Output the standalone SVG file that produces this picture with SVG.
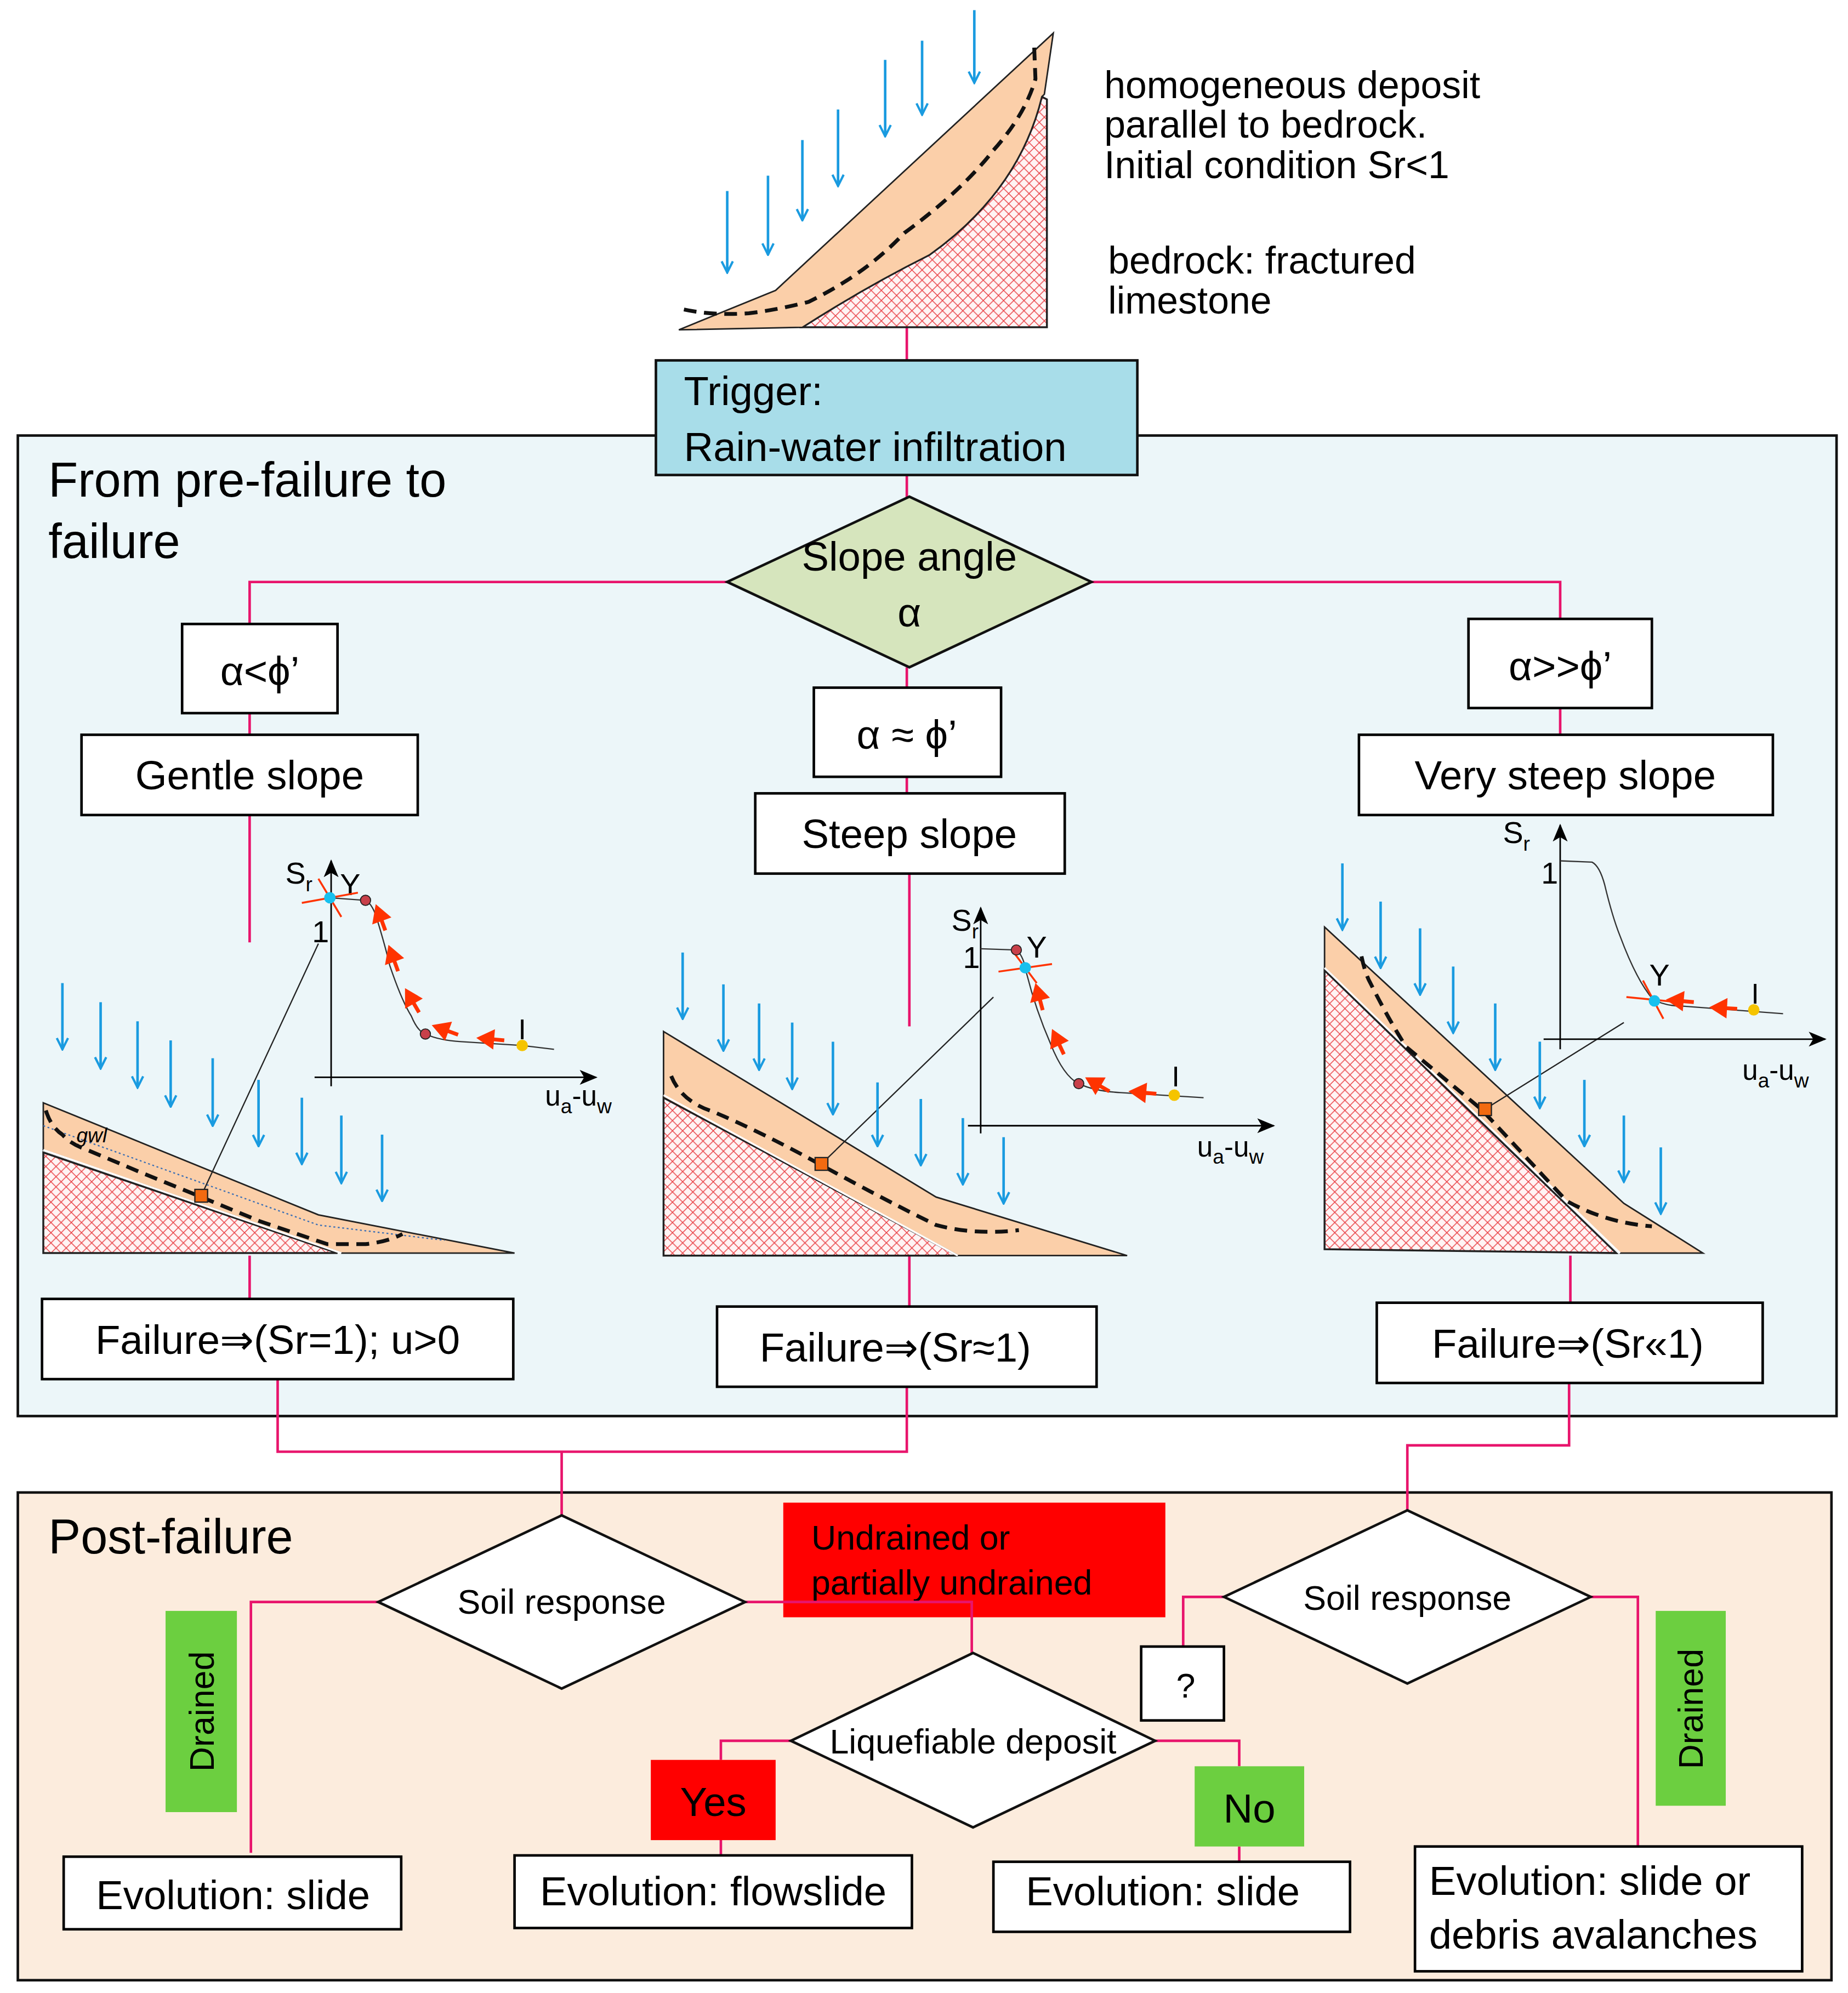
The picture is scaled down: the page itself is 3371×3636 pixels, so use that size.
<svg xmlns="http://www.w3.org/2000/svg" width="3371" height="3636" viewBox="0 0 3371 3636">
<defs>
<style>
text{font-family:"Liberation Sans",Arial,sans-serif;fill:#000}
.box{fill:#fff;stroke:#000;stroke-width:2}
.con{fill:none;stroke:#e8146c;stroke-width:2}
.rain{stroke:#1a9be0;stroke-width:2;fill:none;marker-end:url(#ra)}
.dep{fill:#fbcfa9;stroke:#222;stroke-width:1.2}
.rock{fill:url(#hatch);stroke:#222;stroke-width:1.5}
.dash{fill:none;stroke:#111;stroke-width:3;stroke-dasharray:10,6}
.ax{stroke:#000;stroke-width:1.2;fill:none;marker-end:url(#ax)}
.cur{stroke:#333;stroke-width:1;fill:none}
.lead{stroke:#222;stroke-width:1;fill:none}
.ra{fill:#ff3300}
.t32{font-size:32px}
.t30{font-size:30px}
.t27{font-size:27px}
.t38{font-size:38px}
</style>
<pattern id="hatch" width="8" height="8" patternUnits="userSpaceOnUse">
<rect width="8" height="8" fill="#fff4f4"/>
<path d="M0,8 L8,0 M0,0 L8,8" stroke="#e8383d" stroke-width="0.6"/>
</pattern>
<marker id="ra" viewBox="0 0 10 10" refX="9" refY="5" markerWidth="11" markerHeight="11" markerUnits="userSpaceOnUse" orient="auto">
<path d="M1,1 L9,5 L1,9" fill="none" stroke="#1a9be0" stroke-width="1.6"/>
</marker>
<marker id="ax" viewBox="0 0 12 10" refX="11" refY="5" markerWidth="14" markerHeight="12" markerUnits="userSpaceOnUse" orient="auto">
<path d="M0,0 L12,5 L0,10 L3,5 Z" fill="#000"/>
</marker>
<g id="rarrow"><path d="M0,0 L14,-8 L14,8 Z" class="ra"/><line x1="12" y1="0" x2="22" y2="0" stroke="#ff3300" stroke-width="3"/></g>
</defs>
<rect width="3371" height="3636" fill="#fff"/>
<g transform="scale(2.32325)">

<g id="panel1"><rect x="14" y="342" width="1428" height="770" fill="#ecf6f9" stroke="#111" stroke-width="2"/>
<text x="38" y="390" class="t38">From pre-failure to</text><text x="38" y="438" class="t38">failure</text></g>
<g id="panel2"><rect x="14" y="1172" width="1424" height="383" fill="#fcecdd" stroke="#111" stroke-width="2"/>
<text x="38" y="1220" class="t38">Post-failure</text></g>

<g id="connectors">
<path class="con" d="M712,257 V283 M712,373 V392 M571,457 H196 V490 M857,457 H1225 V486 M712,524 V540 M196,560 V577 M196,640 V740 M712,610 V623 M714,686 V806 M1225,556 V577 M196,986 V1020 M714,986 V1026 M1233,986 V1023 M218,1083 V1140 H712 V1089 M441,1140 V1190 M1232,1086 V1135 H1105 V1186 M621,1367 H566 V1382 M566,1445 V1457 M907,1367 H973 V1387 M973,1450 V1462 M297,1258 H197 V1455 M961,1254 H929 V1293 M1249,1254 H1286 V1450"/>
</g>

<g id="top-slope">
<path class="rock" d="M630,257 L822,257 L822,78 L818,76 Q800,150 730,200 Q680,225 630,257 Z"/>
<path class="dep" d="M533,259 L609,228 L827,26 L820,74 L818,76 Q800,150 730,200 Q680,225 630,257 Z"/>
<path class="dash" d="M537,243 Q560,248 588,246 Q612,243 635,237 Q680,215 710,183 Q755,150 780,118 Q805,90 813,62 L812,37"/>
<line class="rain" x1="571" y1="150" x2="571" y2="214"/>
<line class="rain" x1="603" y1="138" x2="603" y2="200"/>
<line class="rain" x1="630" y1="110" x2="630" y2="173"/>
<line class="rain" x1="658" y1="86" x2="658" y2="146"/>
<line class="rain" x1="695" y1="47" x2="695" y2="107"/>
<line class="rain" x1="724" y1="32" x2="724" y2="90"/>
<line class="rain" x1="765" y1="8" x2="765" y2="65"/>
<text x="867" y="77" class="t30">homogeneous deposit</text>
<text x="867" y="108" class="t30">parallel to bedrock.</text>
<text x="867" y="140" class="t30">Initial condition Sr&lt;1</text>
<text x="870" y="215" class="t30">bedrock: fractured</text>
<text x="870" y="246" class="t30">limestone</text>
</g>

<g id="trigger"><rect x="515" y="283" width="378" height="90" fill="#a8dde9" stroke="#111" stroke-width="2"/>
<text x="537" y="318" class="t32">Trigger:</text><text x="537" y="362" class="t32">Rain-water infiltration</text></g>

<g id="slope-angle"><polygon points="571,457 714,390 857,457 714,524" fill="#d6e5bd" stroke="#111" stroke-width="2"/>
<text x="714" y="448" class="t32" text-anchor="middle">Slope angle</text>
<text x="714" y="492" class="t32" text-anchor="middle" font-family="Liberation Serif,serif">α</text></g>

<g id="c1"><rect class="box" x="143" y="490" width="122" height="70"/><text x="204" y="538" class="t32" text-anchor="middle">α&lt;ϕ’</text></g>
<g id="gentle"><rect class="box" x="64" y="577" width="264" height="63"/><text x="196" y="620" class="t32" text-anchor="middle">Gentle slope</text></g>
<g id="c2"><rect class="box" x="639" y="540" width="147" height="70"/><text x="712" y="588" class="t32" text-anchor="middle">α ≈ ϕ’</text></g>
<g id="steep"><rect class="box" x="593" y="623" width="243" height="63"/><text x="714" y="666" class="t32" text-anchor="middle">Steep slope</text></g>
<g id="c3"><rect class="box" x="1153" y="486" width="144" height="70"/><text x="1225" y="534" class="t32" text-anchor="middle">α&gt;&gt;ϕ’</text></g>
<g id="vsteep"><rect class="box" x="1067" y="577" width="325" height="63"/><text x="1229" y="620" class="t32" text-anchor="middle">Very steep slope</text></g>

<g id="gentle-diagram">
<path class="dep" d="M34,866 L250,954 L404,984 L268,984 L34,903 Z"/>
<path class="rock" d="M34,905 L34,984 L265,984 Z"/>
<line x1="34" y1="903" x2="268" y2="984" stroke="#fff" stroke-width="1.5"/>
<path d="M34,884 L250,962 L349,974" fill="none" stroke="#3b6fb5" stroke-width="1" stroke-dasharray="1.5,2"/>
<text x="60" y="897" font-size="16" font-style="italic">gwl</text>
<path class="dash" d="M36,872 Q40,885 49,891 Q55,898 66,902 Q90,912 109,920 L158,940 L204,959 L257,977 L287,977 Q305,975 316,969"/>
<line class="lead" x1="158" y1="939" x2="250" y2="741"/>
<rect x="153" y="934" width="10" height="10" fill="#f26a10" stroke="#222" stroke-width="1"/>
<line class="ax" x1="260" y1="853" x2="260" y2="676"/>
<line class="ax" x1="247" y1="846" x2="468" y2="846"/>
<text x="224" y="694" font-size="24">S<tspan font-size="16" dy="6">r</tspan></text>
<text x="267" y="703" font-size="24">Y</text>
<text x="245" y="740" font-size="24">1</text>
<path class="cur" d="M259,705 L287,707 Q293,710 297,725 Q303,745 306,758 Q315,785 323,798 Q328,810 334,812 Q345,817 362,818 L410,821 L435,824"/>
<path d="M237,709 L281,701 M250,690 L268,720" stroke="#ff3300" stroke-width="1.5"/>
<circle cx="259" cy="705" r="4.5" fill="#18c0ee"/>
<circle cx="287" cy="707" r="4" fill="#c8404a" stroke="#222" stroke-width="0.8"/>
<circle cx="334" cy="812" r="4" fill="#c8404a" stroke="#222" stroke-width="0.8"/>
<circle cx="410" cy="821" r="4.5" fill="#f5c400"/>
<text x="407" y="816" font-size="22">I</text>
<use href="#rarrow" transform="translate(295,710) rotate(70)"/>
<use href="#rarrow" transform="translate(305,742) rotate(70)"/>
<use href="#rarrow" transform="translate(318,776) rotate(60)"/>
<use href="#rarrow" transform="translate(339,805) rotate(20)"/>
<use href="#rarrow" transform="translate(374,815) rotate(5)"/>
<text x="428" y="868" font-size="22">u<tspan font-size="16" dy="6">a</tspan><tspan dy="-6">-u</tspan><tspan font-size="16" dy="6">w</tspan></text>
<line class="rain" x1="49" y1="772" x2="49" y2="824"/>
<line class="rain" x1="79" y1="787" x2="79" y2="839"/>
<line class="rain" x1="108" y1="802" x2="108" y2="854"/>
<line class="rain" x1="134" y1="817" x2="134" y2="869"/>
<line class="rain" x1="167" y1="831" x2="167" y2="884"/>
<line class="rain" x1="203" y1="848" x2="203" y2="900"/>
<line class="rain" x1="237" y1="862" x2="237" y2="914"/>
<line class="rain" x1="268" y1="876" x2="268" y2="929"/>
<line class="rain" x1="300" y1="891" x2="300" y2="943"/>
</g>

<g id="steep-diagram">
<path class="dep" d="M521,810 L735,940 L885,986 L752,986 L521,862 Z"/>
<path class="rock" d="M521,862 L521,986 L752,986 Z"/>
<line x1="521" y1="860" x2="752" y2="986" stroke="#fff" stroke-width="1.5"/>
<path class="dash" d="M527,845 Q535,865 560,873 Q600,890 645,915 Q700,945 735,962 Q765,970 800,966"/>
<line class="lead" x1="645" y1="914" x2="780" y2="783"/>
<rect x="640" y="909" width="10" height="10" fill="#f26a10" stroke="#222" stroke-width="1"/>
<line class="ax" x1="770" y1="890" x2="770" y2="713"/>
<line class="ax" x1="760" y1="884" x2="1000" y2="884"/>
<text x="747" y="731" font-size="24">S<tspan font-size="16" dy="6">r</tspan></text>
<text x="806" y="752" font-size="24">Y</text>
<text x="756" y="760" font-size="24">1</text>
<path class="cur" d="M770,745 L798,746 Q803,750 805,760 Q812,790 825,820 Q835,845 847,851 Q860,857 880,858 L945,862"/>
<path d="M784,763 L826,757 M796,748 L814,772" stroke="#ff3300" stroke-width="1.5"/>
<circle cx="805" cy="760" r="4.5" fill="#18c0ee"/>
<circle cx="798" cy="746" r="4" fill="#c8404a" stroke="#222" stroke-width="0.8"/>
<circle cx="847" cy="851" r="4" fill="#c8404a" stroke="#222" stroke-width="0.8"/>
<circle cx="922" cy="860" r="4.5" fill="#f5c400"/>
<text x="920" y="853" font-size="22">I</text>
<use href="#rarrow" transform="translate(813,772) rotate(75)"/>
<use href="#rarrow" transform="translate(826,808) rotate(65)"/>
<use href="#rarrow" transform="translate(852,846) rotate(30)"/>
<use href="#rarrow" transform="translate(886,857) rotate(5)"/>
<text x="940" y="908" font-size="22">u<tspan font-size="16" dy="6">a</tspan><tspan dy="-6">-u</tspan><tspan font-size="16" dy="6">w</tspan></text>
<line class="rain" x1="536" y1="748" x2="536" y2="800"/>
<line class="rain" x1="568" y1="773" x2="568" y2="825"/>
<line class="rain" x1="596" y1="788" x2="596" y2="840"/>
<line class="rain" x1="622" y1="803" x2="622" y2="855"/>
<line class="rain" x1="654" y1="818" x2="654" y2="875"/>
<line class="rain" x1="689" y1="850" x2="689" y2="900"/>
<line class="rain" x1="723" y1="863" x2="723" y2="915"/>
<line class="rain" x1="756" y1="878" x2="756" y2="930"/>
<line class="rain" x1="788" y1="893" x2="788" y2="945"/>
</g>

<g id="vsteep-diagram">
<path class="dep" d="M1040,728 L1275,945 L1337,984 L1272,984 L1040,760 Z"/>
<path class="rock" d="M1040,762 L1040,981 L1269,984 Z"/>
<line x1="1040" y1="760" x2="1272" y2="984" stroke="#fff" stroke-width="1.5"/>
<path class="dash" d="M1069,751 Q1072,765 1076,772 Q1090,800 1104,822 L1163,871 L1230,943 Q1260,960 1297,963" stroke="#3a2416"/>
<line class="lead" x1="1166" y1="871" x2="1275" y2="803"/>
<rect x="1161" y="866" width="10" height="10" fill="#f26a10" stroke="#222" stroke-width="1"/>
<line class="ax" x1="1225" y1="824" x2="1225" y2="648"/>
<line class="ax" x1="1212" y1="816" x2="1433" y2="816"/>
<text x="1180" y="662" font-size="24">S<tspan font-size="16" dy="6">r</tspan></text>
<text x="1210" y="694" font-size="24">1</text>
<path class="cur" d="M1225,676 L1250,677 Q1256,680 1260,695 Q1266,720 1272,735 Q1285,770 1298,785 Q1308,790 1320,790 L1400,796"/>
<path d="M1277,783 L1318,787 M1290,770 L1306,800" stroke="#ff3300" stroke-width="1.5"/>
<circle cx="1299" cy="786" r="4.5" fill="#18c0ee"/>
<text x="1295" y="774" font-size="24">Y</text>
<circle cx="1377" cy="793" r="4.5" fill="#f5c400"/>
<text x="1375" y="788" font-size="22">I</text>
<use href="#rarrow" transform="translate(1308,785) rotate(5)"/>
<use href="#rarrow" transform="translate(1342,791) rotate(3)"/>
<text x="1368" y="848" font-size="22">u<tspan font-size="16" dy="6">a</tspan><tspan dy="-6">-u</tspan><tspan font-size="16" dy="6">w</tspan></text>
<line class="rain" x1="1054" y1="678" x2="1054" y2="730"/>
<line class="rain" x1="1084" y1="708" x2="1084" y2="760"/>
<line class="rain" x1="1115" y1="729" x2="1115" y2="781"/>
<line class="rain" x1="1141" y1="759" x2="1141" y2="811"/>
<line class="rain" x1="1174" y1="788" x2="1174" y2="840"/>
<line class="rain" x1="1209" y1="818" x2="1209" y2="870"/>
<line class="rain" x1="1244" y1="848" x2="1244" y2="900"/>
<line class="rain" x1="1275" y1="876" x2="1275" y2="928"/>
<line class="rain" x1="1304" y1="901" x2="1304" y2="953"/>
</g>

<g id="f1"><rect class="box" x="33" y="1020" width="370" height="63"/><text x="218" y="1063" class="t32" text-anchor="middle">Failure⇒(Sr=1); u&gt;0</text></g>
<g id="f2"><rect class="box" x="563" y="1026" width="298" height="63"/><text x="703" y="1069" class="t32" text-anchor="middle">Failure⇒(Sr≈1)</text></g>
<g id="f3"><rect class="box" x="1081" y="1023" width="303" height="63"/><text x="1231" y="1066" class="t32" text-anchor="middle">Failure⇒(Sr«1)</text></g>

<g id="undrained"><rect x="615" y="1180" width="300" height="90" fill="#ff0000"/>
<text x="637" y="1217" class="t27">Undrained or</text><text x="637" y="1252" class="t27">partially undrained</text></g>
<path class="con" d="M585,1258 H763 V1298"/>
<g id="soil1"><polygon points="297,1258 441,1190 585,1258 441,1326" fill="#fff" stroke="#111" stroke-width="2"/>
<text x="441" y="1267" class="t27" text-anchor="middle">Soil response</text></g>
<g id="soil2"><polygon points="961,1254 1105,1186 1249,1254 1105,1322" fill="#fff" stroke="#111" stroke-width="2"/>
<text x="1105" y="1264" class="t27" text-anchor="middle">Soil response</text></g>
<g id="liq"><polygon points="621,1367 764,1298 907,1367 764,1435" fill="#fff" stroke="#111" stroke-width="2"/>
<text x="764" y="1377" class="t27" text-anchor="middle">Liquefiable deposit</text></g>
<g id="q"><rect class="box" x="896" y="1293" width="65" height="58"/><text x="931" y="1333" class="t27" text-anchor="middle">?</text></g>
<g id="yes"><rect x="511" y="1382" width="98" height="63" fill="#ff0000"/><text x="560" y="1426" class="t32" text-anchor="middle">Yes</text></g>
<g id="no"><rect x="938" y="1387" width="86" height="63" fill="#6ccf40"/><text x="981" y="1431" class="t32" text-anchor="middle">No</text></g>
<g id="drained1"><rect x="130" y="1265" width="56" height="158" fill="#6ccf40"/><text transform="translate(168,1344) rotate(-90)" class="t27" text-anchor="middle">Drained</text></g>
<g id="drained2"><rect x="1300" y="1265" width="55" height="153" fill="#6ccf40"/><text transform="translate(1337,1342) rotate(-90)" class="t27" text-anchor="middle">Drained</text></g>
<g id="e1"><rect class="box" x="50" y="1458" width="265" height="57"/><text x="183" y="1499" class="t32" text-anchor="middle">Evolution: slide</text></g>
<g id="e2"><rect class="box" x="404" y="1457" width="312" height="57"/><text x="560" y="1496" class="t32" text-anchor="middle">Evolution: flowslide</text></g>
<g id="e3"><rect class="box" x="780" y="1462" width="280" height="55"/><text x="913" y="1496" class="t32" text-anchor="middle">Evolution: slide</text></g>
<g id="e4"><rect class="box" x="1111" y="1450" width="304" height="98"/><text x="1122" y="1488" class="t32">Evolution: slide or</text><text x="1122" y="1530" class="t32">debris avalanches</text></g>
</g>
</svg>
